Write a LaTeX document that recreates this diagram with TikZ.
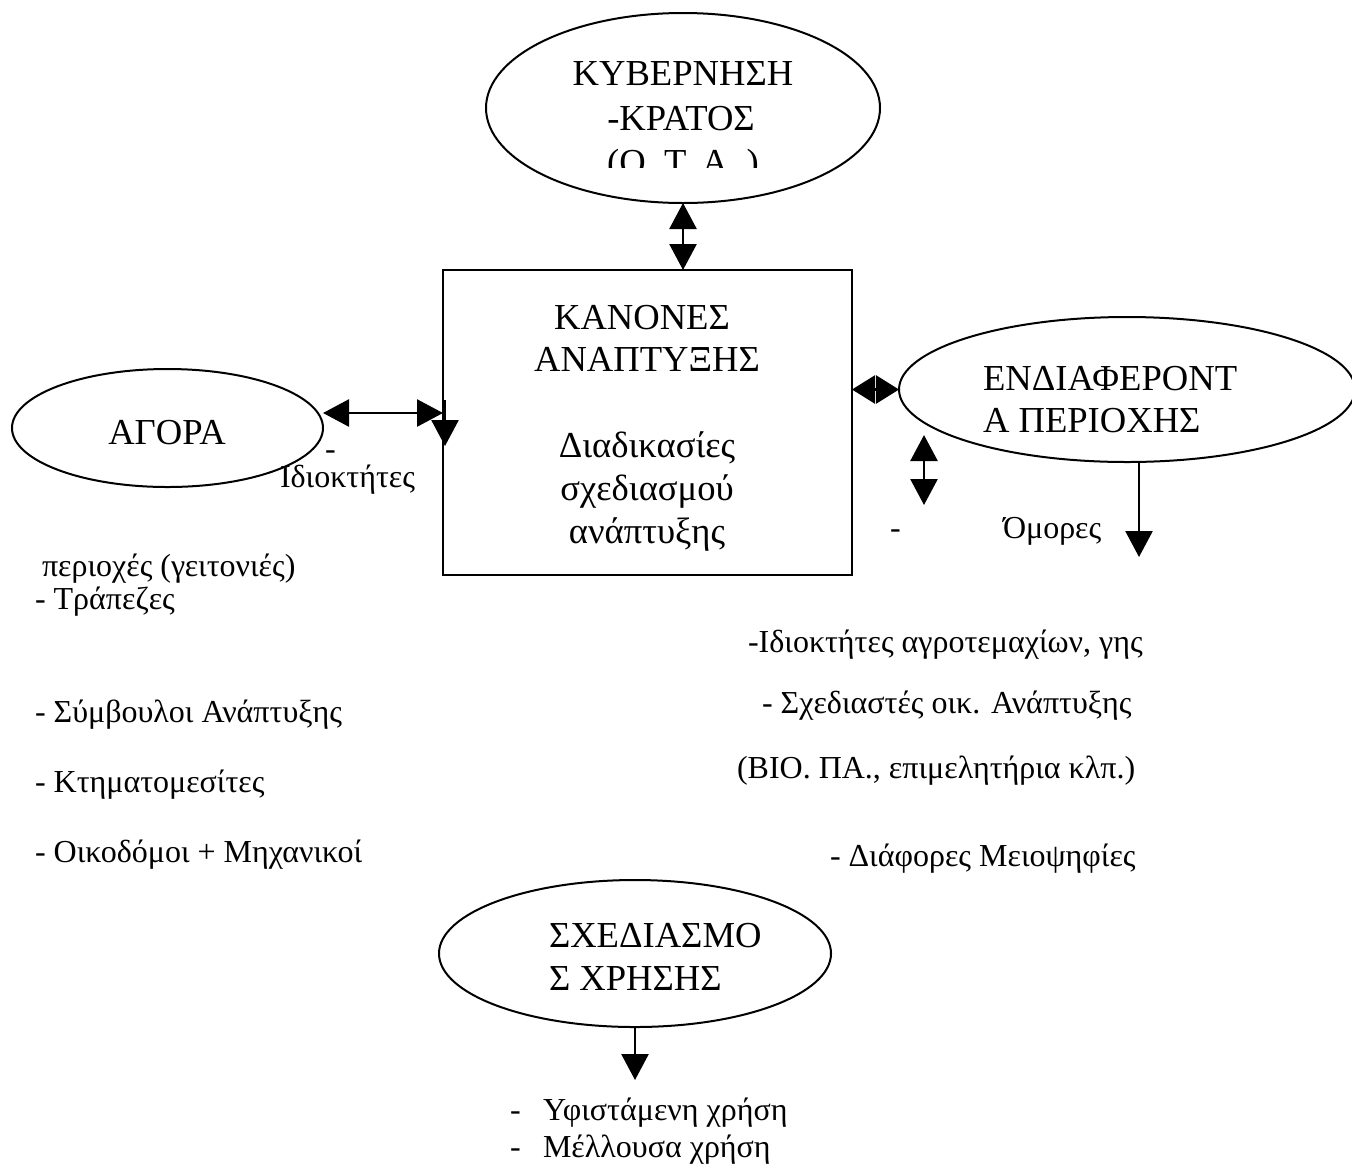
\documentclass[tikz,border=0pt]{standalone}
\usepackage{fontspec}
\setmainfont{Liberation Serif}
\usetikzlibrary{shapes.geometric,arrows.meta}
\begin{document}
\begin{tikzpicture}[x=0.5pt,y=-0.5pt,
  big/.style={font=\fontsize{18.3}{22}\selectfont, inner sep=0pt, outer sep=0pt},
  small/.style={font=\fontsize{16}{19}\selectfont, inner sep=0pt, outer sep=0pt},
  oval/.style={draw, ellipse, line width=1pt, inner sep=0pt, outer sep=0pt},
  frame/.style={draw, rectangle, line width=1.3pt, inner sep=0pt, outer sep=0pt},
  arr/.style={line width=1.3pt, -{Triangle[length=13pt,width=13.5pt]}},
  darr/.style={line width=1.3pt, {Triangle[length=13pt,width=13.5pt]}-{Triangle[length=13pt,width=13.5pt]}},
  sdarr/.style={line width=1.3pt, {Triangle[length=11.5pt,width=14pt]}-{Triangle[length=11.5pt,width=14pt]}},
]
\useasboundingbox (0,0) rectangle (1352,1168);

% top ellipse
\node[oval, minimum width=197pt, minimum height=95pt] (kyv) at (683,108) {};
\node[big, anchor=base] (kyv1) at (683,85) {ΚΥΒΕΡΝΗΣΗ};
\node[big, anchor=base] (kyv2) at (681,130) {-ΚΡΑΤΟΣ};
\begin{scope}
  \clip (480,100) rectangle (890,167);
  \node[big, anchor=base] (kyv3) at (683,174) {(Ο. Τ. Α. )};
\end{scope}

% central box
\node[frame, minimum width=204.5pt, minimum height=152.5pt] (box) at (647.5,422.5) {};
\node[big, anchor=base] (k1) at (642,329) {ΚΑΝΟΝΕΣ};
\node[big, anchor=base] (k2) at (647,371) {ΑΝΑΠΤΥΞΗΣ};
\node[big, anchor=base] (k3) at (647,457) {Διαδικασίες};
\node[big, anchor=base] (k4) at (647,500) {σχεδιασμού};
\node[big, anchor=base] (k5) at (647,543) {ανάπτυξης};

% right ellipse
\node[oval, minimum width=228pt, minimum height=72.5pt] (endi) at (1127,389.5) {};
\node[big, anchor=base west] (e1) at (983,390) {ΕΝΔΙΑΦΕΡΟΝΤ};
\node[big, anchor=base west] (e2) at (983,432) {Α ΠΕΡΙΟΧΗΣ};

% left ellipse
\node[oval, minimum width=155.5pt, minimum height=59pt] (agora) at (167.5,428) {};
\node[big, anchor=base] (agoratxt) at (167,444) {ΑΓΟΡΑ};

% bottom ellipse
\node[oval, minimum width=196pt, minimum height=73.5pt] (sxed) at (635,953.5) {};
\node[big, anchor=base west] (sx1) at (549,947) {ΣΧΕΔΙΑΣΜΟ};
\node[big, anchor=base west] (sx2) at (549,990) {Σ ΧΡΗΣΗΣ};

% connectors
\draw[darr] (kyv.south) -- (kyv.south |- box.north);
\coordinate (la) at ([yshift=7.5pt]agora.east);
\draw[darr] (la) -- (la -| box.west);
\coordinate (ld0) at (445,400);
\coordinate (ld1) at (445,446);
\draw[arr] (ld0) -- (ld1);
\draw[sdarr] (box.east |- endi.west) -- (endi.west);
\coordinate (rv0) at (924,435);
\coordinate (rv1) at (924,505);
\draw[darr] (rv0) -- (rv1);
\coordinate (rd0) at (1139,462);
\coordinate (rd1) at (1139,557);
\draw[arr] (rd0) -- (rd1);
\coordinate (bd) at (635,1080);
\draw[arr] (sxed.south) -- (bd);

% small texts near nodes
\node[small, anchor=base west] (dash1) at (325,459) {-};
\node[small, anchor=base west] (idiok) at (280,487) {Ιδιοκτήτες};
\node[small, anchor=base west] (dash2) at (890,538) {-};
\node[small, anchor=base west] (omor) at (1003,538) {Όμορες};

% left column
\node[small, anchor=base west] (l0) at (42,576) {περιοχές (γειτονιές)};
\node[small, anchor=base west] (l1) at (35,609) {- Τράπεζες};
\node[small, anchor=base west] (l2) at (35,722) {- Σύμβουλοι Ανάπτυξης};
\node[small, anchor=base west] (l3) at (35,792) {- Κτηματομεσίτες};
\node[small, anchor=base west] (l4) at (35,862) {- Οικοδόμοι + Μηχανικοί};

% right column
\node[small, anchor=base west] (r1) at (748,652) {-Ιδιοκτήτες αγροτεμαχίων, γης};
\node[small, anchor=base west] (r2) at (762,713) {- Σχεδιαστές οικ. Ανάπτυξης};
\node[small, anchor=base west] (r3) at (737,778) {(ΒΙΟ. ΠΑ., επιμελητήρια κλπ.)};
\node[small, anchor=base west] (r4) at (830,866) {- Διάφορες Μειοψηφίες};

% bottom list
\node[small, anchor=base west] (b1d) at (510,1120) {-};
\node[small, anchor=base west] (b1) at (543,1120) {Υφιστάμενη χρήση};
\node[small, anchor=base west] (b2d) at (510,1157) {-};
\node[small, anchor=base west] (b2) at (543,1157) {Μέλλουσα χρήση};
\end{tikzpicture}
\end{document}
